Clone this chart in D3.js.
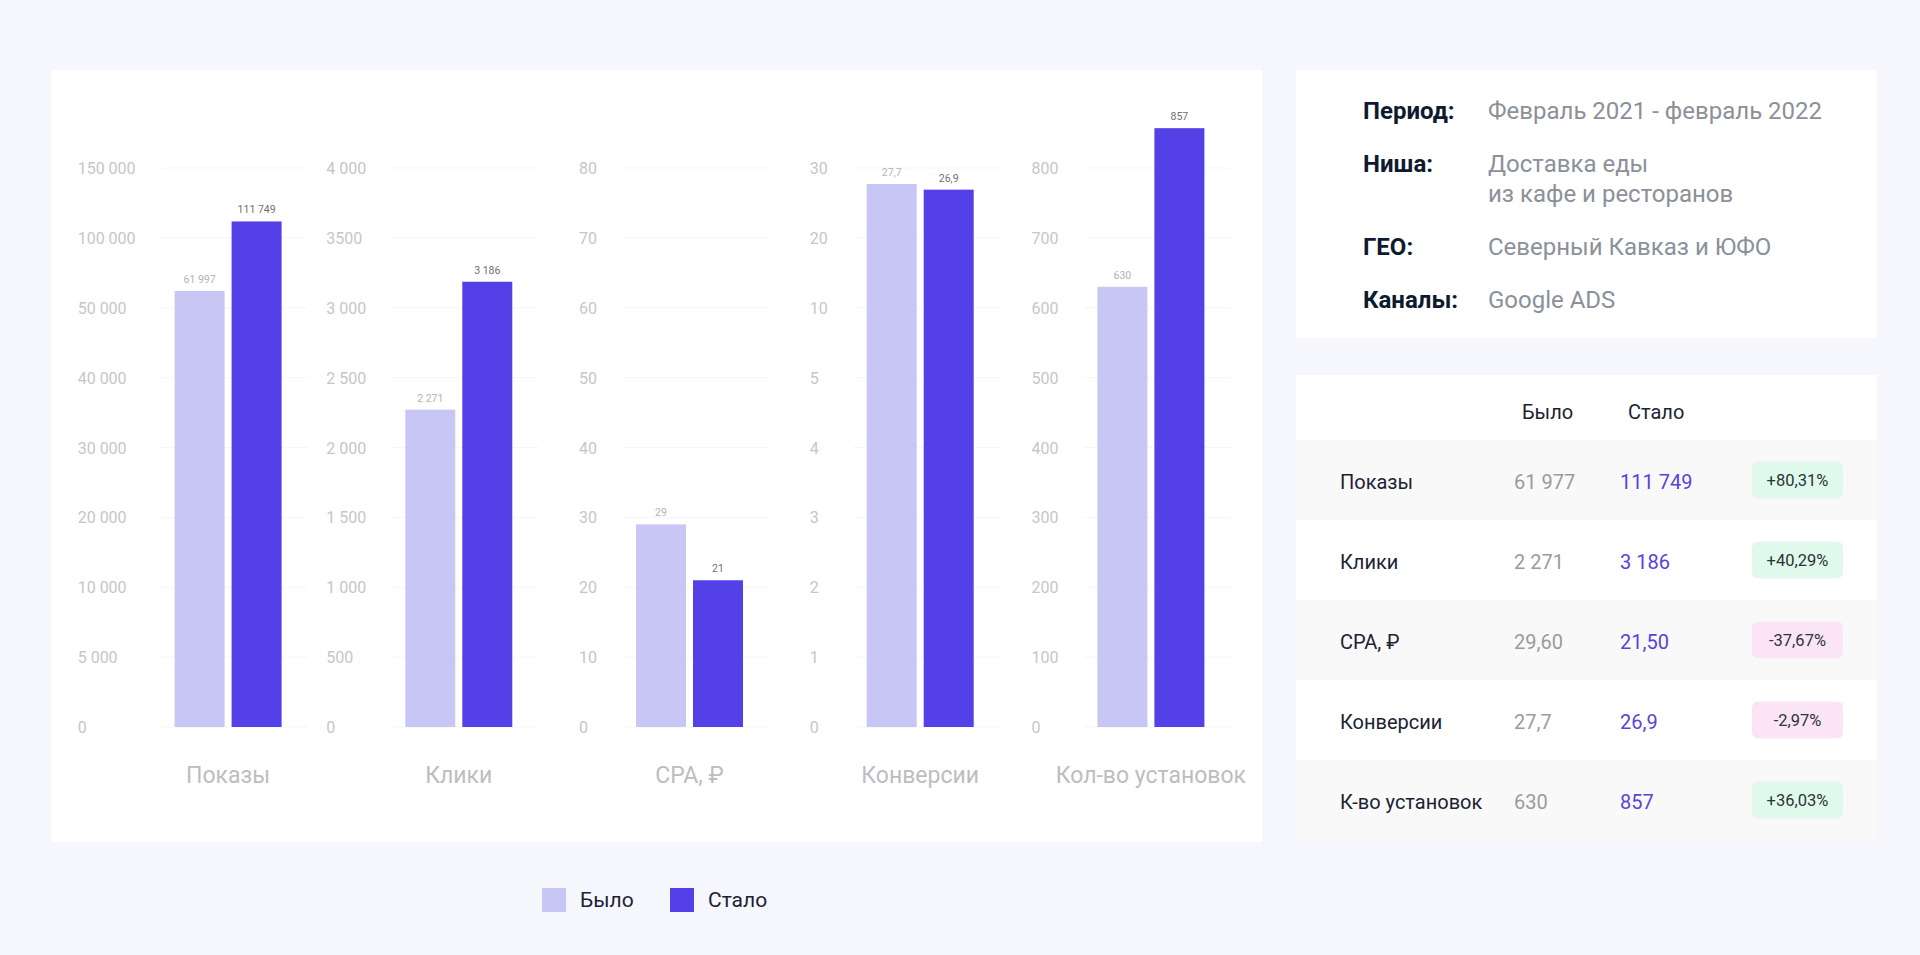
<!DOCTYPE html>
<html>
<head>
<meta charset="utf-8">
<script src="https://cdn.jsdelivr.net/npm/d3@7"></script>
<style>
  html, body { margin: 0; padding: 0; background: #f6f7fd; }
  svg { display: block; font-family: "Roboto", "Noto Sans", sans-serif; }
</style>
</head>
<body>
<svg id="chart" width="1920" height="955"></svg>
<script>
// ---------- DATA ----------
const categories = ["Показы", "Клики", "CPA, ₽", "Конверсии", "Кол-во установок"];
const seriesNames = ["Было", "Стало"];
const beforeValues = [61997, 2271, 29, 27.7, 630];
const afterValues = [111749, 3186, 21, 26.9, 857];
const beforeLabels = ["61 997", "2 271", "29", "27,7", "630"];
const afterLabels = ["111 749", "3 186", "21", "26,9", "857"];

const tickValues1 = [0, 5000, 10000, 20000, 30000, 40000, 50000, 100000, 150000];
const tickLabels1 = ["0", "5 000", "10 000", "20 000", "30 000", "40 000", "50 000", "100 000", "150 000"];
const tickValues2 = [0, 500, 1000, 1500, 2000, 2500, 3000, 3500, 4000];
const tickLabels2 = ["0", "500", "1 000", "1 500", "2 000", "2 500", "3 000", "3500", "4 000"];
const tickValues3 = [0, 10, 20, 30, 40, 50, 60, 70, 80];
const tickLabels3 = ["0", "10", "20", "30", "40", "50", "60", "70", "80"];
const tickValues4 = [0, 1, 2, 3, 4, 5, 10, 20, 30];
const tickLabels4 = ["0", "1", "2", "3", "4", "5", "10", "20", "30"];
const tickValues5 = [0, 100, 200, 300, 400, 500, 600, 700, 800];
const tickLabels5 = ["0", "100", "200", "300", "400", "500", "600", "700", "800"];

const infoLabels = ["Период:", "Ниша:", "ГЕО:", "Каналы:"];
const infoValues = [["Февраль 2021 - февраль 2022"], ["Доставка еды", "из кафе и ресторанов"], ["Северный Кавказ и ЮФО"], ["Google ADS"]];

const tableHeaders = ["Было", "Стало"];
const tableRows = ["Показы", "Клики", "CPA, ₽", "Конверсии", "К-во установок"];
const tableBefore = ["61 977", "2 271", "29,60", "27,7", "630"];
const tableAfter = ["111 749", "3 186", "21,50", "26,9", "857"];
const tableChange = ["+80,31%", "+40,29%", "-37,67%", "-2,97%", "+36,03%"];

// ---------- STYLE ----------
const C = {
  before: "#c8c6f5", after: "#5340e6",
  tick: "#c6c6c9", cat: "#bdbdc1", grid: "#f6f6f8",
  valBefore: "#b3b3b6", valAfter: "#6f6f73",
  dark: "#0e1b2e", gray: "#8b9099", text: "#1b2233",
  purple: "#5a43d8", rowAlt: "#f9f9fa",
  up: "#dffaec", down: "#fbe4f6"
};

const svg = d3.select("#chart");

// panels
svg.append("rect").attr("x", 51).attr("y", 70).attr("width", 1211).attr("height", 772).attr("fill", "#fff");
svg.append("rect").attr("x", 1296).attr("y", 70).attr("width", 581).attr("height", 268).attr("fill", "#fff");
svg.append("rect").attr("x", 1296).attr("y", 375).attr("width", 581).attr("height", 465).attr("fill", "#fff");

// ---------- BAR CHARTS ----------
const allTicks = [tickValues1, tickValues2, tickValues3, tickValues4, tickValues5];
const allTickLabels = [tickLabels1, tickLabels2, tickLabels3, tickLabels4, tickLabels5];

const groupX = d3.scaleBand().domain(categories).range([112.75, 1266.25]);
const barX = d3.scaleBand().domain(seriesNames).range([-53.5, 53.5]).paddingInner(0.1228);
const slot = d3.scaleLinear().domain([0, 8]).range([727, 168]);

categories.forEach((cat, i) => {
  const cx = groupX(cat) + groupX.bandwidth() / 2;
  const ticks = allTicks[i];
  const y = d3.scaleLinear().domain(ticks).range(ticks.map((_, k) => slot(k)));
  const g = svg.append("g").attr("transform", `translate(${cx},0)`);

  // gridlines
  g.selectAll("line.grid").data(ticks).join("line")
    .attr("class", "grid")
    .attr("x1", -67).attr("x2", 80)
    .attr("y1", d => y(d)).attr("y2", d => y(d))
    .attr("stroke", C.grid).attr("stroke-width", 1);

  // axis
  const labels = allTickLabels[i];
  const axis = d3.axisLeft(y).tickValues(ticks).tickSize(0).tickPadding(0)
    .tickFormat((d, k) => labels[k]);
  const ag = g.append("g").call(axis);
  ag.select(".domain").remove();
  ag.selectAll("text")
    .attr("text-anchor", "start").attr("x", 0).attr("dy", "0.35em")
    .attr("fill", C.tick).style("font-size", "16px").style("font-family", "Roboto, sans-serif");
  let maxW = 0;
  ag.selectAll("text").each(function () { maxW = Math.max(maxW, this.getComputedTextLength()); });
  ag.attr("transform", `translate(${barX("Было") - 39 - maxW},0)`);

  // bars
  const vals = [beforeValues[i], afterValues[i]];
  const vlabels = [beforeLabels[i], afterLabels[i]];
  g.selectAll("rect.bar").data(seriesNames).join("rect")
    .attr("class", "bar")
    .attr("x", s => barX(s))
    .attr("width", barX.bandwidth())
    .attr("y", (s, k) => y(vals[k]))
    .attr("height", (s, k) => y(0) - y(vals[k]))
    .attr("fill", (s, k) => k === 0 ? C.before : C.after);

  g.selectAll("text.val").data(seriesNames).join("text")
    .attr("class", "val")
    .attr("x", s => barX(s) + barX.bandwidth() / 2)
    .attr("y", (s, k) => y(vals[k]) - 8)
    .attr("text-anchor", "middle")
    .attr("fill", (s, k) => k === 0 ? C.valBefore : C.valAfter)
    .style("font-size", "10.5px")
    .text((s, k) => vlabels[k]);

  // category label
  g.append("text").attr("x", 0).attr("y", 783).attr("text-anchor", "middle")
    .attr("fill", C.cat).style("font-size", "23px").text(cat);
});

// ---------- LEGEND ----------
const legendX = d3.scalePoint().domain(seriesNames).range([542, 670]);
const lg = svg.selectAll("g.leg").data(seriesNames).join("g").attr("class", "leg")
  .attr("transform", s => `translate(${legendX(s)},888)`);
lg.append("rect").attr("width", 24).attr("height", 24).attr("fill", (s, k) => k === 0 ? C.before : C.after);
lg.append("text").attr("x", 38).attr("y", 12).attr("dy", "0.35em")
  .attr("fill", C.text).style("font-size", "21px").text(s => s);

// ---------- INFO PANEL ----------
let iy = 111;
infoLabels.forEach((lab, i) => {
  svg.append("text").attr("x", 1363).attr("y", iy).attr("dy", "0.35em")
    .attr("fill", C.dark).style("font-size", "24px").style("font-weight", "700").text(lab);
  infoValues[i].forEach((line, j) => {
    svg.append("text").attr("x", 1488).attr("y", iy + j * 30).attr("dy", "0.35em")
      .attr("fill", C.gray).style("font-size", "24px").text(line);
  });
  iy += 53 + 30 * (infoValues[i].length - 1);
});

// ---------- TABLE ----------
const colX = d3.scalePoint().domain(tableHeaders).range([1514, 1620]);
svg.selectAll("text.th").data(tableHeaders).join("text").attr("class", "th")
  .attr("x", h => colX(h) + 8).attr("y", 412).attr("dy", "0.35em")
  .attr("fill", C.text).style("font-size", "20px").text(h => h);

const rowY = d3.scaleBand().domain(tableRows).range([440, 840]);
const rows = svg.selectAll("g.row").data(tableRows).join("g").attr("class", "row")
  .attr("transform", r => `translate(0,${rowY(r)})`);
rows.append("rect").attr("x", 1296).attr("width", 581).attr("height", rowY.bandwidth())
  .attr("fill", (r, k) => k % 2 === 0 ? C.rowAlt : "#fff");
const mid = rowY.bandwidth() / 2;
rows.append("text").attr("x", 1340).attr("y", mid + 2).attr("dy", "0.35em")
  .attr("fill", C.text).style("font-size", "20px").text(r => r);
rows.append("text").attr("x", colX("Было")).attr("y", mid + 2).attr("dy", "0.35em")
  .attr("fill", "#9a9a9e").style("font-size", "20px").text((r, k) => tableBefore[k]);
rows.append("text").attr("x", colX("Стало")).attr("y", mid + 2).attr("dy", "0.35em")
  .attr("fill", C.purple).style("font-size", "20px").text((r, k) => tableAfter[k]);
rows.append("rect").attr("x", 1752).attr("y", mid - 18.5).attr("width", 91).attr("height", 37)
  .attr("rx", 6).attr("fill", (r, k) => tableChange[k].startsWith("-") ? C.down : C.up);
rows.append("text").attr("x", 1797.5).attr("y", mid).attr("dy", "0.35em").attr("text-anchor", "middle")
  .attr("fill", "#2b3438").style("font-size", "16.5px").text((r, k) => tableChange[k]);
</script>
</body>
</html>
